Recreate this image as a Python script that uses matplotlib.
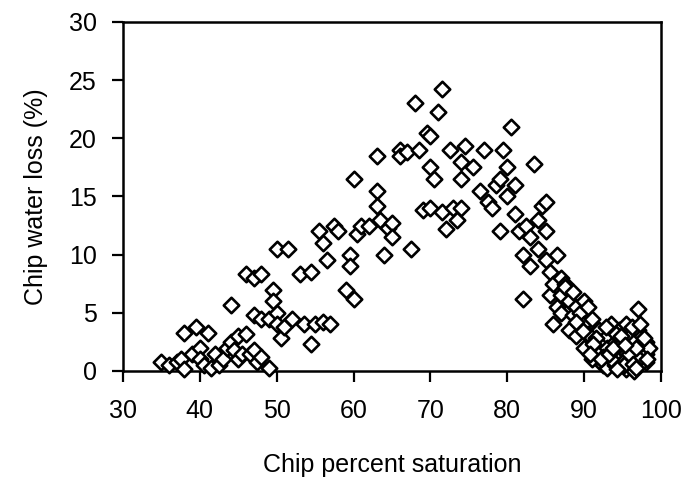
import matplotlib
matplotlib.use("Agg")
import matplotlib.pyplot as plt

plt.rcParams['font.family'] = ['Liberation Sans', 'DejaVu Sans']

# chip percent saturation vs chip water loss
sat = [35, 36, 37, 37.5, 38, 38, 39, 39.5, 40, 40, 40.5, 41, 41.5, 42, 42.5,
       43, 43.5, 44, 44, 44.5, 45, 45, 45.5, 46, 46, 46.5, 47, 47, 47, 47.5,
       48, 48, 48, 49, 49, 49.5, 49.5, 50, 50, 50, 50.5, 51, 51.5, 52, 53,
       53.5, 54.5, 54.5, 55, 55.5, 56, 56, 56.5, 57, 57.5, 58, 59, 59.5, 59.5,
       60, 60, 60.5, 61, 62, 63, 63, 63, 63.5, 64, 64.5, 65, 65, 66, 66, 67,
       67.5, 68, 68.5, 69, 69.5, 70, 70, 70, 70.5, 71, 71.5, 71.5, 72, 72.5,
       73, 73.5, 74, 74, 74, 74.5, 75.5, 76.5, 77, 77.5, 78, 78.5, 79, 79,
       79.5, 80, 80, 80.5, 81, 81, 81.5, 82, 82, 82.5, 83, 83, 83.5, 84, 84,
       84.5, 85, 85, 85, 85.5, 85.5, 86, 86, 86.5, 86.5, 87, 87, 87, 87.5,
       88, 88, 88, 88.5, 89, 89, 89.5, 90, 90, 90, 90.5, 91, 91, 91, 91.5,
       92, 92, 92, 92.5, 93, 93, 93, 93.5, 94, 94, 94, 94.5, 95, 95, 95,
       95.5, 95.5, 96, 96, 96, 96.5, 96.5, 97, 97, 97, 97, 97.5, 97.5, 98,
       98, 98, 98.5, 87.5, 88.5, 89, 90.5, 91.5, 92.5, 93.5, 94.5, 96.5, 97.5,
       92.2, 93.2, 94.2, 95.2, 96.2, 97.2, 93.8, 94.8, 95.8, 96.8, 97.8,
       94.3, 95.3, 96.3, 97.3, 91.2, 92.8, 96.8, 98.2, 89.8, 90.8]
loss = [0.8, 0.5, 0.8, 1.0, 3.3, 0.2, 1.5, 3.8, 2.0, 1.0, 0.5, 3.3, 0.3, 1.5, 0.5,
        1.0, 2.0, 2.5, 5.7, 1.8, 3.0, 1.0, 1.5, 8.3, 3.2, 1.5, 8.0, 4.8, 1.8, 0.8,
        8.3, 4.5, 1.2, 4.5, 0.3, 7.0, 6.0, 5.0, 10.5, 4.0, 2.8, 3.8, 10.5, 4.5, 8.3,
        4.0, 8.5, 2.3, 4.0, 12.0, 11.0, 4.2, 9.5, 4.0, 12.5, 12.0, 7.0, 10.0, 9.0,
        16.5, 6.2, 11.8, 12.5, 12.5, 18.5, 15.5, 14.2, 13.0, 10.0, 12.3, 12.7, 11.5, 19.0, 18.5, 18.8,
        10.5, 23.0, 19.0, 13.8, 20.5, 20.2, 17.5, 14.0, 16.5, 22.3, 24.2, 13.7, 12.2, 19.0,
        14.0, 13.0, 18.0, 16.5, 14.0, 19.3, 17.5, 15.5, 19.0, 14.5, 14.0, 16.0, 16.5, 12.0,
        19.0, 17.5, 15.0, 21.0, 16.0, 13.5, 12.0, 6.2, 10.0, 12.5, 11.5, 9.0, 17.8, 10.5, 13.0,
        14.2, 14.5, 12.0, 9.5, 8.5, 6.5, 4.0, 7.5, 10.0, 5.5, 8.0, 6.5, 5.0, 7.5,
        7.0, 6.0, 3.5, 4.8, 5.5, 3.0, 5.0, 6.0, 4.0, 2.0, 5.5, 4.5, 3.0, 1.0, 2.0,
        3.5, 2.5, 1.5, 0.5, 3.0, 2.0, 0.3, 4.0, 2.5, 1.5, 0.5, 3.5, 2.8, 1.8, 0.8,
        4.0, 0.2, 3.0, 2.0, 1.0, 0.0, 2.5, 5.3, 3.5, 1.5, 0.5, 2.0, 3.0, 2.5,
        1.5, 0.8, 2.0, 7.2, 6.8, 4.2, 3.2, 2.8, 1.2, 1.0, 2.2, 1.2, 0.8,
        1.0, 1.5, 3.2, 0.5, 3.8, 1.0, 2.0, 3.0, 1.5, 2.0, 2.8,
        0.2, 2.2, 0.6, 4.0, 2.3, 3.8, 0.3, 1.0, 3.4, 1.5]

xticks = [30, 40, 50, 60, 70, 80, 90, 100]
yticks = [0, 5, 10, 15, 20, 25, 30]

fig = plt.figure(figsize=(6.81, 4.82), dpi=100)
ax = fig.add_axes([0.1806, 0.2303, 0.79, 0.7241])

ax.scatter(sat, loss, marker='D', s=62, facecolors='white',
           edgecolors='black', linewidths=1.9, zorder=3, clip_on=False)

ax.set_xlim(30, 100)
ax.set_ylim(0, 30)
ax.set_xticks(xticks)
ax.set_yticks(yticks)
ax.tick_params(direction='out', length=8, width=1.6, labelsize=18)
ax.tick_params(axis='x', pad=12)
ax.tick_params(axis='y', pad=11)
for s in ax.spines.values():
    s.set_linewidth(1.8)

ax.set_xlabel("Chip percent saturation", fontsize=18, labelpad=22)
ax.set_ylabel("Chip water loss (%)", fontsize=18, labelpad=15)

fig.savefig("out.png", dpi=100)
